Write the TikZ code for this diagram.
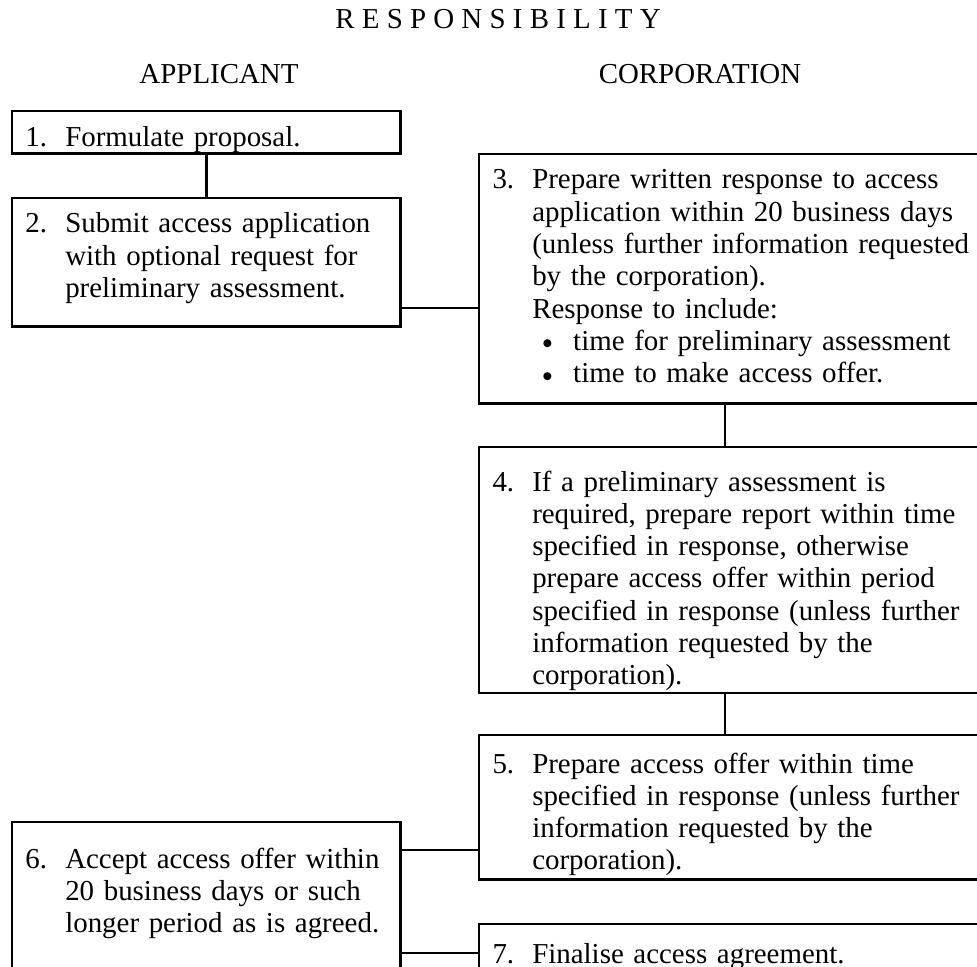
\documentclass[tikz,border=0pt]{standalone}
\usepackage{fontspec}
\setmainfont{Liberation Serif}
\usepackage{array}
\newcommand{\steptext}[2]{\begin{tabular}[t]{@{}p{16.5pt}@{}l@{}}#1 & #2\end{tabular}}
\newcommand{\stepbullet}{\makebox[17pt][l]{\hspace{4.2pt}\raisebox{0.6pt}{$\scriptstyle\bullet$}}}

\begin{document}
\begin{tikzpicture}[x=0.415pt, y=-0.415pt,
    every node/.style={font=\fontsize{12}{13.4}\selectfont},
    stepbox/.style={draw, line width=1.2pt, outer sep=0pt, anchor=north west, inner xsep=5.6pt, inner ysep=0pt},
    leftbox/.style={stepbox, text width=150.2pt},
    rightbox/.style={stepbox, text width=200.9pt},
    link/.style={line width=1.2pt}]
    \useasboundingbox (0,0) rectangle (977,966);
    \clip (0,0) rectangle (977,966);
    % headings
    \node[anchor=base] (title) at (498,28) {R E S P O N S I B I L I T Y};
    \node[anchor=base] (applicant) at (219,83) {APPLICANT};
    \node[anchor=base] (corporation) at (700,83) {CORPORATION};
    % applicant steps
    \node[leftbox, text height=14.9pt, text depth=2.9pt] (s1) at (12,111) {\steptext{1.}{Formulate proposal.}};
    \node[leftbox, text height=14.5pt, text depth=39pt] (s2) at (12,198) {\steptext{2.}{Submit access application\\ & with optional request for\\ & preliminary assessment.}};
    \node[leftbox, text height=19.1pt, text depth=51.5pt] (s6) at (12,822) {\steptext{6.}{Accept access offer within\\ & 20 business days or such\\ & longer period as is agreed.}};
    % corporation steps
    \node[rightbox, text height=14.5pt, text depth=89.2pt] (s3) at (479,154) {\steptext{3.}{Prepare written response to access\\ & application within 20 business days\\ & (unless further information requested\\ & by the corporation).\\ & Response to include:\\ & \stepbullet time for preliminary assessment\\ & \stepbullet time to make access offer.}};
    \node[rightbox, text height=18.3pt, text depth=83.8pt] (s4) at (479,447) {\steptext{4.}{If a preliminary assessment is\\ & required, prepare report within time\\ & specified in response, otherwise\\ & prepare access offer within period\\ & specified in response (unless further\\ & information requested by the\\ & corporation).}};
    \node[rightbox, text height=15.8pt, text depth=44pt] (s5) at (479,735) {\steptext{5.}{Prepare access offer within time\\ & specified in response (unless further\\ & information requested by the\\ & corporation).}};
    \node[rightbox, text height=16.2pt, text depth=8.7pt] (s7) at (479,924) {\steptext{7.}{Finalise access agreement.}};
    % links
    \coordinate (h23) at (0,308);
    \coordinate (v34) at (725,0);
    \coordinate (h65) at (0,850);
    \coordinate (h67) at (0,953);
    \draw[link] (s1.south) -- (s2.north);
    \draw[link] (s2.east |- h23) -- (s3.west |- h23);
    \draw[link] (s3.south -| v34) -- (s4.north -| v34);
    \draw[link] (s4.south -| v34) -- (s5.north -| v34);
    \draw[link] (s6.east |- h65) -- (s5.west |- h65);
    \draw[link] (s6.east |- h67) -- (s7.west |- h67);
\end{tikzpicture}
\end{document}
